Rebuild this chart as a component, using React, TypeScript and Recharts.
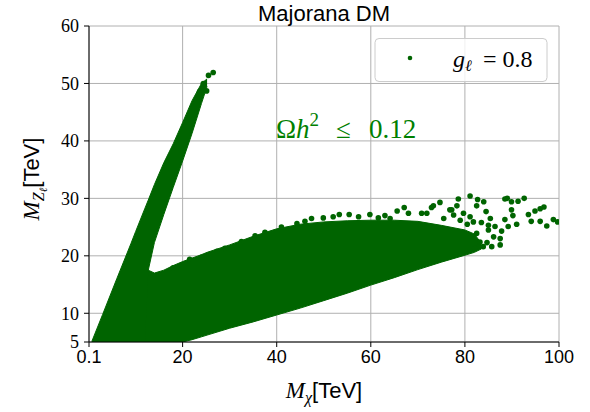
import React from 'react';
import {
    ComposedChart,
    Area,
    Scatter,
    XAxis,
    YAxis,
    CartesianGrid,
} from 'recharts';

const DOT = '#006400';
const SERIF = '"Liberation Serif", serif';
const SANS = '"Liberation Sans", sans-serif';

// masses (TeV) where the edges of the dense regions are sampled
const massGrid = [0.7, 3, 6, 9, 10, 12, 12.7, 14, 16, 18, 20, 22, 24, 25.2, 30, 35, 40, 45, 50, 55, 60, 65, 70, 75, 80, 82, 83.5];

// steep branch (M_Z ~ 2 M_chi): lower and upper edge of the filled strip
const branchLow = [5, 5, 5, 5, 5, 5, 17.5, 22.3, 27.2, 31.9, 36.5, 41.3, 46.5, 49.5, null, null, null, null, null, null, null, null, null, null, null, null, null];
const branchHigh = [5.1, 9.8, 16.0, 22.1, 24.2, 28.3, 29.7, 32.4, 36.2, 39.5, 43.2, 47.0, 50.0, 50.8, null, null, null, null, null, null, null, null, null, null, null, null, null];

// wide band: lower and upper edge
const bandLow = [null, null, null, null, 5, 5, 5, 5, 5, 5, 5, 5.4, 5.9, 6.2, 7.4, 8.5, 9.7, 10.9, 12.2, 13.5, 14.9, 16.2, 17.6, 18.9, 20.1, 20.6, 21.2];
const bandHigh = [null, null, null, null, 17.5, 17.5, 17.5, 17.0, 17.5, 18.3, 19.0, 19.6, 20.2, 20.6, 21.9, 23.4, 24.7, 25.5, 25.9, 26.1, 26.2, 26.2, 26.0, 25.3, 24.5, 23.8, 22.2];

// isolated points sitting outside the dense regions
const strayMass = [
    24.4, 25.5, 26.5, 25.1, 23.6,
    18.0, 21.5, 24.1, 27.3, 29.0, 32.5, 35.4, 37.5, 41.0, 44.3, 46.0, 47.4, 49.9, 52.0, 53.3, 55.4, 57.4, 59.8, 61.6,
    63.0, 64.1, 65.6, 67.1, 68.0, 70.8, 71.9, 72.9, 73.3, 74.7, 75.5,
    76.8, 77.2, 77.6, 78.3, 78.6, 79.0, 79.7, 80.5, 81.1, 81.1, 81.8, 82.5, 82.5, 82.7, 82.1,
    83.2, 83.5, 83.9, 84.0, 84.5, 84.7, 85.0, 85.0, 85.4, 85.7, 86.1, 86.4, 87.5, 87.5, 87.8,
    88.5, 88.5, 89.0, 89.2, 89.9, 89.9, 90.2, 91.0, 91.3, 92.6, 93.5, 94.1, 94.9, 96.0, 96.0,
    96.8, 97.4, 98.8, 99.7,
];
const strayZ = [
    50.0, 51.4, 51.9, 48.7, 48.6,
    17.9, 19.4, 19.8, 20.8, 21.3, 22.5, 23.5, 24.1, 25.0, 25.6, 26.0, 26.5, 26.6, 26.8, 27.2, 27.2, 26.8, 27.2, 26.6,
    27.0, 26.5, 27.8, 28.4, 27.4, 27.4, 27.4, 28.4, 28.7, 29.3, 26.5,
    28.0, 28.0, 27.1, 28.7, 29.9, 26.2, 27.4, 25.5, 30.4, 26.8, 25.9, 28.7, 23.9, 29.8, 21.3,
    22.4, 25.8, 21.6, 29.4, 27.7, 22.3, 24.5, 25.3, 26.5, 21.6, 23.3, 25.1, 23.0, 21.9, 24.3,
    29.9, 26.3, 30.0, 25.1, 29.4, 28.0, 27.0, 25.5, 29.5, 30.0, 27.2, 26.0, 27.8, 28.2, 26.0,
    28.5, 25.2, 26.3, 25.9,
];

const massTicks = [0.1, 20, 40, 60, 80, 100];
const zTicks = [5, 10, 20, 30, 40, 50, 60];

const rows = massGrid.map((mass, i) => ({
    mass,
    branch: branchLow[i] == null ? undefined : [branchLow[i], branchHigh[i]],
    band: bandLow[i] == null ? undefined : [bandLow[i], bandHigh[i]],
}));

const strays = strayMass.map((mass, i) => ({ mass, mz: strayZ[i] }));

const Dot = (props: any) => <circle cx={props.cx} cy={props.cy} r={2.8} fill={DOT} />;

export default function App() {
    return (
        <div style={{ position: 'absolute', left: 0, top: 0, width: 590, height: 412, background: '#fff' }}>
            <ComposedChart width={590} height={412} data={rows} margin={{ top: 26, right: 31, left: 8, bottom: 40 }}>
                <CartesianGrid stroke="#b0b0b0" strokeWidth={1} />
                <XAxis
                    dataKey="mass"
                    type="number"
                    domain={[0.1, 100]}
                    ticks={massTicks}
                    allowDataOverflow
                    height={30}
                    tickSize={5}
                    tickMargin={3}
                    axisLine={{ stroke: '#000' }}
                    tickLine={{ stroke: '#000' }}
                    tick={{ fill: '#000', fontSize: 18, fontFamily: SANS }}
                    interval={0}
                />
                <XAxis xAxisId="top" orientation="top" type="number" domain={[0, 1]} height={0} tick={false} tickLine={false} axisLine={{ stroke: '#000' }} />
                <YAxis
                    dataKey="mz"
                    type="number"
                    domain={[5, 60]}
                    ticks={zTicks}
                    allowDataOverflow
                    width={81}
                    tickSize={5}
                    tickMargin={5}
                    axisLine={{ stroke: '#000' }}
                    tickLine={{ stroke: '#000' }}
                    tick={{ fill: '#000', fontSize: 18, fontFamily: SERIF }}
                    interval={0}
                />
                <YAxis yAxisId="right" orientation="right" type="number" domain={[0, 1]} width={0} tick={false} tickLine={false} axisLine={{ stroke: '#000' }} />
                <Area dataKey={(r: any) => r.band} type="linear" fill={DOT} fillOpacity={1} stroke={DOT} strokeWidth={1} dot={false} activeDot={false} isAnimationActive={false} />
                <Area dataKey={(r: any) => r.branch} type="linear" fill={DOT} fillOpacity={1} stroke={DOT} strokeWidth={1} dot={false} activeDot={false} isAnimationActive={false} />
                <Scatter data={strays} dataKey="mz" shape={Dot} isAnimationActive={false} />
            </ComposedChart>

            <svg width={590} height={412} style={{ position: 'absolute', left: 0, top: 0, pointerEvents: 'none' }}>
                <text x={324} y={21} textAnchor="middle" fontFamily={SANS} fontSize={22} fill="#000">Majorana DM</text>

                <text x={324} y={398} textAnchor="middle" fill="#000">
                    <tspan fontFamily={SERIF} fontStyle="italic" fontSize={23}>M</tspan>
                    <tspan fontFamily={SERIF} fontStyle="italic" fontSize={16} dy={5}>χ</tspan>
                    <tspan fontFamily={SANS} fontSize={22} dy={-5}>[TeV]</tspan>
                </text>

                <text transform="translate(39,179) rotate(-90)" textAnchor="middle" fill="#000">
                    <tspan fontFamily={SERIF} fontStyle="italic" fontSize={23}>M</tspan>
                    <tspan fontFamily={SERIF} fontStyle="italic" fontSize={16} dy={5}>Z</tspan>
                    <tspan fontFamily={SERIF} fontStyle="italic" fontSize={11} dy={3}>ℓ</tspan>
                    <tspan fontFamily={SANS} fontSize={22} dy={-8}>[TeV]</tspan>
                </text>

                {/* relic density condition */}
                <text x={276} y={138} fill="#008000" fontFamily={SERIF} fontSize={27}>
                    <tspan>Ω</tspan>
                    <tspan fontStyle="italic">h</tspan>
                    <tspan fontSize={19} dy={-12}>2</tspan>
                    <tspan dx={17} dy={12}>≤</tspan>
                    <tspan dx={18}>0.12</tspan>
                </text>

                <rect x={375} y={38.5} width={172} height={43} rx={4} fill="#fff" fillOpacity={0.8} stroke="#cccccc" strokeWidth={1} />
                <circle cx={410} cy={58} r={2.3} fill={DOT} />
                <text x={453} y={67} fill="#000" fontFamily={SERIF}>
                    <tspan fontStyle="italic" fontSize={24}>g</tspan>
                    <tspan fontStyle="italic" fontSize={16} dy={4}>ℓ</tspan>
                </text>
                <text x={483} y={67} fill="#000" fontFamily={SERIF} fontSize={24}>= 0.8</text>
            </svg>
        </div>
    );
}
